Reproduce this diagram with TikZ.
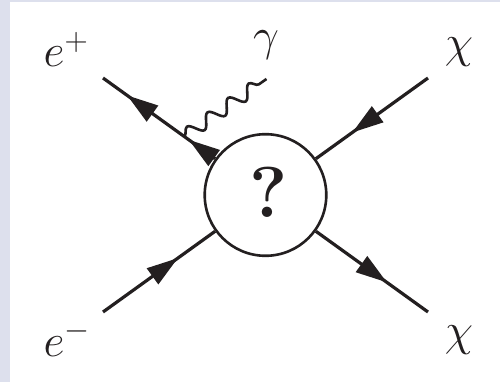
\RequirePackage{fix-cm}
\documentclass[tikz,border=0pt]{standalone}
\usetikzlibrary{calc,decorations.markings,decorations.pathmorphing}
\definecolor{ink}{RGB}{35,31,32}
\definecolor{slide}{RGB}{221,224,237}
\begin{document}
\begin{tikzpicture}[x=1pt,y=-1pt,
  fermion/.style={draw=ink, line width=3.2pt, postaction={decorate}},
  photon/.style={draw=ink, line width=2.6pt, decorate,
    decoration={snake, amplitude=6.5pt, segment length=25.1pt}},
  blobstyle/.style={circle, draw=ink, line width=2.6pt, minimum size=121.6pt, inner sep=0pt},
  lbl/.style={inner sep=0pt, text=ink, font=\fontsize{46}{50}\selectfont},
  qmark/.style={inner sep=0pt, text=ink, font=\fontsize{72}{72}\selectfont\bfseries}]
\newcommand\revtri{\fill[ink] (0,0) -- (31pt,10pt) -- (31pt,-10pt) -- cycle;}
\newcommand\fwdtri{\fill[ink] (0,0) -- (-31pt,10pt) -- (-31pt,-10pt) -- cycle;}
\useasboundingbox (0,0) rectangle (500,382);
\fill[slide] (0,0) rectangle (500,382);
\fill[white] (10,2) rectangle (500,382);
% blob
\node[blobstyle] (blob) at (265.5,195) {};
\node[qmark, anchor=base] (q) at (269,217) {?};
% external points
\coordinate (ep) at (103,78);
\coordinate (em) at (103,312);
\coordinate (ca) at (428,78);
\coordinate (cb) at (428,312);
\coordinate (v) at ($(ep)!0.5!(blob.center)$);
\coordinate (g) at (266.5,79);
% fermion lines
\draw[fermion, decoration={markings,
   mark=at position 30pt with {\revtri},
   mark=at position 106pt with {\revtri}}] (ep) -- (blob);
\draw[fermion, decoration={markings,
   mark=at position 92pt with {\fwdtri}}] (em) -- (blob);
\draw[fermion, decoration={markings,
   mark=at position 93pt with {\fwdtri}}] (ca) -- (blob);
\draw[fermion, decoration={markings,
   mark=at position 51pt with {\revtri}}] (cb) -- (blob);
% photon
\draw[photon] (v) -- (g);
% labels
\node[lbl, anchor=base west] (lep) at (43.5,66.8) {$e^+$};
\node[lbl, anchor=base west] (lem) at (43.5,356) {$e^-$};
\node[lbl, anchor=base] (lg) at (266,50.7) {$\gamma$};
\node[lbl, anchor=base] (lca) at (459,58) {$\chi$};
\node[lbl, anchor=base] (lcb) at (459,345) {$\chi$};
\end{tikzpicture}
\end{document}
